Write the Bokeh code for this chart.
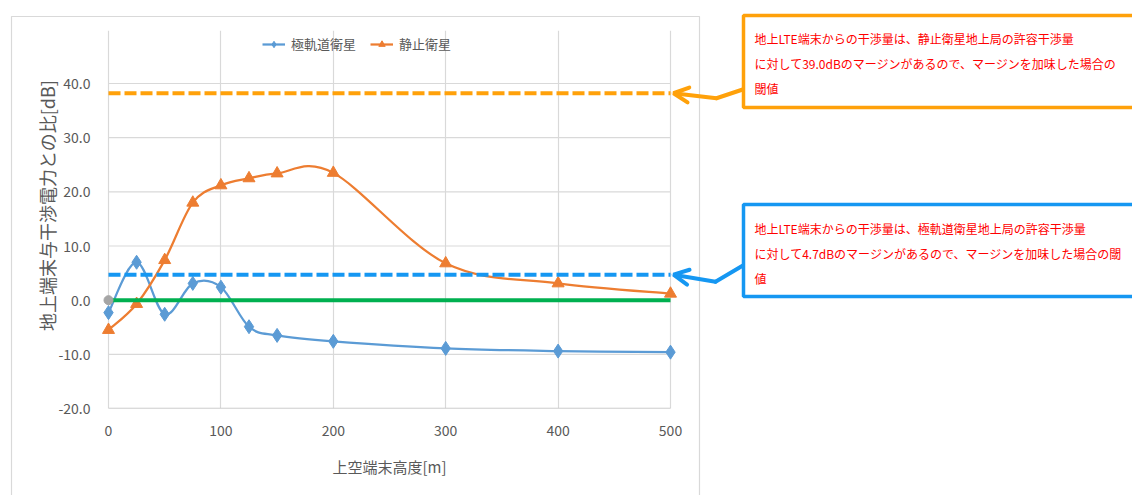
import math
from bokeh.plotting import figure
from bokeh.models import (ColumnDataSource, Legend, LegendItem, FixedTicker, NumeralTickFormatter,
                          BoxAnnotation, Label, Arrow, OpenHead, Range1d, GridBox, Column)
from bokeh.embed import file_html
from bokeh.resources import INLINE

# ---------------- data ----------------
heights = [0, 25, 50, 75, 100, 125, 150, 200, 300, 400, 500]
polar_sat = [-2.3, 7.0, -2.6, 3.1, 2.4, -4.9, -6.5, -7.6, -8.9, -9.4, -9.6]
geo_sat = [-5.5, -0.7, 7.4, 18.0, 21.2, 22.5, 23.4, 23.5, 6.8, 3.1, 1.2]
origin_x = [0]
origin_y = [0.0]
geo_threshold = 38.2
polar_threshold = 4.7
baseline = 0.0
x_ticks = [0, 100, 200, 300, 400, 500]
y_ticks = [-20, -10, 0, 10, 20, 30, 40]
series_names = ["極軌道衛星", "静止衛星"]
x_title = "上空端末高度[m]"
y_title = "地上端末与干渉電力との比[dB]"
geo_note = ["地上LTE端末からの干渉量は、静止衛星地上局の許容干渉量",
            "に対して39.0dBのマージンがあるので、マージンを加味した場合の",
            "閾値"]
polar_note = ["地上LTE端末からの干渉量は、極軌道衛星地上局の許容干渉量",
              "に対して4.7dBのマージンがあるので、マージンを加味した場合の閾",
              "値"]

FONT = "Noto Sans CJK JP"
C_POLAR = "#5B9BD5"
C_GEO = "#ED7D31"
C_ORANGE = "#FFA10A"
C_BLUE = "#1597F2"
C_GREEN = "#00B050"
C_GRID = "#D9D9D9"
C_TEXT = "#595959"

W, H = 1132, 495
# plot-area placement (pixels): x 0 -> 108, x 500 -> 670 ; y 40 -> 83, y -20 -> 408
PX_X0, PX_X1, PX_YT, PX_YB = 108.0, 670.0, 83.0, 408.0
KX = (PX_X1 - PX_X0) / (x_ticks[-1] - x_ticks[0])
KY = (PX_YB - PX_YT) / (y_ticks[-1] - y_ticks[0])
FRAME_L, FRAME_R, FRAME_T = 99.0, 690.0, 30.0


def smooth_segments(xs, ys):
    """Bezier segments (Excel-like smoothing) through the given points."""
    n = len(xs)
    out = dict(x0=[], y0=[], x1=[], y1=[], cx0=[], cy0=[], cx1=[], cy1=[])
    for i in range(n - 1):
        a = i - 1 if i > 0 else i
        d = i + 2 if i + 2 < n else i + 1
        out["x0"].append(xs[i]); out["y0"].append(ys[i])
        out["x1"].append(xs[i + 1]); out["y1"].append(ys[i + 1])
        out["cx0"].append(xs[i] + (xs[i + 1] - xs[a]) / 6)
        out["cy0"].append(ys[i] + (ys[i + 1] - ys[a]) / 6)
        out["cx1"].append(xs[i + 1] - (xs[d] - xs[i]) / 6)
        out["cy1"].append(ys[i + 1] - (ys[d] - ys[i]) / 6)
    return ColumnDataSource(out)


# ================= chart figure =================
x_lo = x_ticks[0] - (PX_X0 - FRAME_L) / KX
x_hi = x_ticks[0] + (FRAME_R - PX_X0) / KX
y_hi = y_ticks[0] + (PX_YB - FRAME_T) / KY
p = figure(width=W, height=H, x_range=Range1d(x_lo, x_hi), y_range=Range1d(y_ticks[0], y_hi),
           output_backend="svg", toolbar_location=None,
           min_border_left=int(FRAME_L), min_border_right=int(W - FRAME_R),
           min_border_top=int(FRAME_T), min_border_bottom=int(H - PX_YB))
p.outline_line_color = None
p.background_fill_color = "white"
p.border_fill_color = "white"

for ax in (p.xaxis[0], p.yaxis[0]):
    ax.axis_line_color = None
    ax.major_tick_line_color = None
    ax.minor_tick_line_color = None
    ax.major_label_text_font = FONT
    ax.major_label_text_font_size = "14px"
    ax.major_label_text_color = C_TEXT
p.xaxis.ticker = FixedTicker(ticks=x_ticks)
p.yaxis.ticker = FixedTicker(ticks=y_ticks)
p.yaxis.formatter = NumeralTickFormatter(format="0.0")
p.xaxis.major_label_standoff = 10
p.yaxis.major_label_standoff = 3

p.xgrid.grid_line_color = C_GRID
p.xgrid.grid_line_width = 1.2
p.ygrid.grid_line_color = None
p.segment(x0=[x_ticks[0]] * len(y_ticks), y0=y_ticks, x1=[x_ticks[-1]] * len(y_ticks), y1=y_ticks,
          line_color=C_GRID, line_width=1.2)
p.segment(x0=[x_ticks[0]], y0=[y_ticks[0]], x1=[x_ticks[-1]], y1=[y_ticks[0]],
          line_color="#C8C8C8", line_width=1.4)

r_polar_line = p.bezier(source=smooth_segments(heights, polar_sat), x0="x0", y0="y0", x1="x1", y1="y1",
                        cx0="cx0", cy0="cy0", cx1="cx1", cy1="cy1", line_color=C_POLAR, line_width=2.25)
r_geo_line = p.bezier(source=smooth_segments(heights, geo_sat), x0="x0", y0="y0", x1="x1", y1="y1",
                      cx0="cx0", cy0="cy0", cx1="cx1", cy1="cy1", line_color=C_GEO, line_width=2.25)
r_polar_pts = p.scatter(heights, polar_sat, marker="diamond", size=14, fill_color=C_POLAR,
                        line_color=C_POLAR)
r_geo_pts = p.scatter(heights, geo_sat, marker="triangle", size=12, fill_color=C_GEO, line_color=C_GEO)

p.line([x_ticks[0], x_ticks[-1]], [baseline, baseline], line_color=C_GREEN, line_width=4)
p.line([x_ticks[0], x_ticks[-1]], [polar_threshold, polar_threshold], line_color=C_BLUE, line_width=4,
       line_dash="12 4")
p.line([x_ticks[0], x_ticks[-1]], [geo_threshold, geo_threshold], line_color=C_ORANGE, line_width=4,
       line_dash="12 4")
p.scatter(origin_x, origin_y, marker="circle", size=9, fill_color="#A5A5A5", line_color="#A5A5A5")

legend = Legend(items=[LegendItem(label=series_names[0], renderers=[r_polar_line, r_polar_pts]),
                       LegendItem(label=series_names[1], renderers=[r_geo_line, r_geo_pts])],
                orientation="horizontal", location=(262 - FRAME_L, PX_YB - 53), padding=0, margin=0,
                spacing=14, glyph_width=23, glyph_height=16, label_height=16, label_standoff=6,
                label_text_font=FONT, label_text_font_size="13px", label_text_color=C_TEXT,
                border_line_color=None, background_fill_alpha=0)
p.add_layout(legend)

# ================= overlay figure (titles, chart border, notes, arrows) =================
# its ranges are plain page pixels (y downward)
q = figure(width=W, height=H, x_range=Range1d(0, W), y_range=Range1d(H, 0),
           output_backend="svg", toolbar_location=None, x_axis_location=None, y_axis_location=None,
           min_border=0, min_border_left=0, min_border_right=0, min_border_top=0, min_border_bottom=0)
q.outline_line_color = None
q.grid.visible = False
q.background_fill_alpha = 0
q.border_fill_alpha = 0

q.add_layout(BoxAnnotation(left=11, right=699, top=16, bottom=H + 10, fill_alpha=0,
                           line_color=C_GRID, line_alpha=1, line_width=1.2))

q.add_layout(Label(x=46, y=205, text=y_title, angle=math.pi / 2, text_align="center",
                   text_baseline="middle", text_font=FONT, text_font_size="18px", text_color=C_TEXT))
q.add_layout(Label(x=(PX_X0 + PX_X1) / 2, y=466, text=x_title, text_align="center",
                   text_baseline="middle", text_font=FONT, text_font_size="15px", text_color=C_TEXT))


def arrow_path(color, box_pt, bend_pt, tip_pt):
    q.add_layout(Arrow(x_start=box_pt[0], y_start=box_pt[1], x_end=bend_pt[0], y_end=bend_pt[1],
                       end=None, line_color=color, line_width=4, line_cap="round"))
    q.add_layout(Arrow(x_start=bend_pt[0], y_start=bend_pt[1], x_end=tip_pt[0], y_end=tip_pt[1],
                       line_color=color, line_width=4, line_cap="round",
                       end=OpenHead(size=15, line_color=color, line_width=4, line_cap="round")))


geo_y = PX_YB - (geo_threshold - y_ticks[0]) * KY
polar_y = PX_YB - (polar_threshold - y_ticks[0]) * KY
arrow_path(C_ORANGE, (743, geo_y - 4), (716, geo_y + 5), (673, geo_y))
arrow_path(C_BLUE, (742, polar_y - 9), (715, polar_y + 7), (673, polar_y))


def note_box(color, top, bottom, lines, centers):
    q.add_layout(BoxAnnotation(left=743, right=W + 20, top=top, bottom=bottom,
                               fill_color="white", fill_alpha=1, line_color=color, line_alpha=1,
                               line_width=3.5))
    for t, c in zip(lines, centers):
        q.add_layout(Label(x=754, y=c, text=t, text_align="left", text_baseline="middle",
                           text_font=FONT, text_font_size="12px", text_color="#FF0000"))


note_box(C_ORANGE, 15, 107, geo_note, [38, 63, 88])
note_box(C_BLUE, 204, 296, polar_note, [228, 253, 278])

layout = GridBox(children=[(p, 0, 0), (Column(children=[q]), 0, 0)])
open("out.html", "w").write(file_html(layout, INLINE))
